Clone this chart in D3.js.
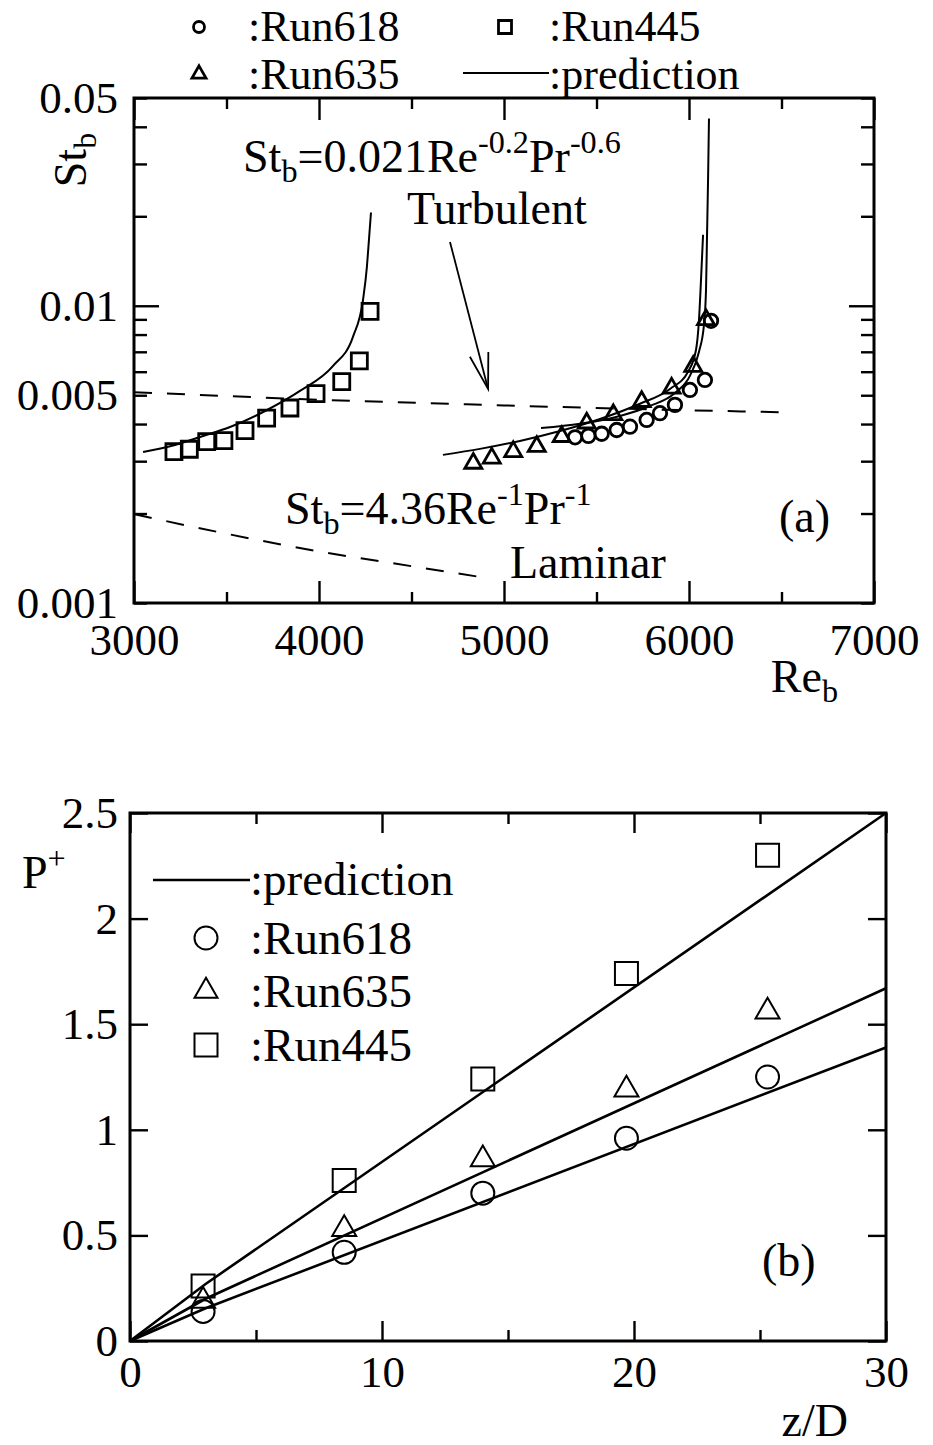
<!DOCTYPE html>
<html>
<head>
<meta charset="utf-8">
<script src="https://cdn.jsdelivr.net/npm/d3@7"></script>
<style>
  body { margin: 0; background: #fff; }
  svg text { font-family: "Liberation Serif", "Times New Roman", serif; fill: #000; }
</style>
</head>
<body>
<svg width="933" height="1445"></svg>
<script>

/* (a) St_b frente a Re_b */

let re445 = [3216, 3299, 3393, 3486, 3600, 3717, 3843, 3984, 4123, 4218, 4276]
let st445 = [0.00323, 0.00329, 0.00349, 0.00352, 0.00380, 0.00419, 0.00453, 0.00506, 0.00556, 0.00653, 0.00957]
let re635 = [4834, 4934, 5050, 5177, 5312, 5447, 5591, 5744, 5906, 6023, 6092]
let st635 = [0.00295, 0.00307, 0.00323, 0.00336, 0.00363, 0.00403, 0.00430, 0.00476, 0.00528, 0.00625, 0.00897]
let re618 = [5384, 5456, 5528, 5609, 5681, 5771, 5843, 5924, 6005, 6086, 6119]
let st618 = [0.00361, 0.00365, 0.00371, 0.00382, 0.00392, 0.00413, 0.00435, 0.00464, 0.00521, 0.00563, 0.00890]

// predicciones
let pred_re445 = [3049, 3222, 3357, 3519, 3719, 3897, 4076, 4184, 4238, 4259, 4270, 4281]
let pred_st445 = [0.00322, 0.00340, 0.00362, 0.00391, 0.00446, 0.00517, 0.00628, 0.00787, 0.01047, 0.01353, 0.01668, 0.0206]
let pred_re635 = [4670, 4870, 5086, 5303, 5519, 5735, 5897, 5995, 6038, 6054, 6065, 6076]
let pred_st635 = [0.00315, 0.00330, 0.00351, 0.00379, 0.00416, 0.00468, 0.00525, 0.00600, 0.00711, 0.00897, 0.01224, 0.01734]
let pred_re618 = [5200, 5411, 5627, 5789, 5924, 6005, 6054, 6081, 6092, 6097, 6103, 6108]
let pred_st618 = [0.00388, 0.00401, 0.00426, 0.00460, 0.00509, 0.00581, 0.00700, 0.00863, 0.01132, 0.01667, 0.02655, 0.04264]

// correlaciones (lineas de trazos)
let turb_re = [3000, 4000, 5000, 6000, 6540]
let turb_st = [0.00512, 0.00483, 0.00462, 0.00445, 0.00438]
let lam_re = [3000, 3500, 4000, 4500, 4920]
let lam_st = [0.00199, 0.00171, 0.00149, 0.00133, 0.00121]

// flecha "Turbulent" [Re, St]
let flecha_desde = [4708, 0.0164]
let flecha_hasta = [4914, 0.00525]

let ticks_re = [3000, 4000, 5000, 6000, 7000]
let ticks_re_menor = [3500, 4500, 5500, 6500]
let ticks_st = [0.001, 0.005, 0.01, 0.05]


/* (b) P+ frente a z/D */

let z_med = [2.9, 8.5, 14.0, 19.7, 25.3]
let p618 = [0.14, 0.42, 0.70, 0.96, 1.25]
let p635 = [0.19, 0.53, 0.86, 1.19, 1.56]
let p445 = [0.26, 0.76, 1.24, 1.74, 2.30]

let z_pred = [0, 3, 30]
let pred_p618 = [0, 0.155, 1.39]
let pred_p635 = [0, 0.20, 1.67]
let pred_p445 = [0, 0.27, 2.50]

let ticks_z = [0, 10, 20, 30]
let ticks_z_menor = [5, 15, 25]
let ticks_p = [0, 0.5, 1, 1.5, 2, 2.5]



let svg = d3.select('svg')

let xa = d3.scaleLinear().domain([3000, 7000]).range([134, 874])
let ya = d3.scaleLog().domain([0.001, 0.05]).range([603, 98])
let xb = d3.scaleLinear().domain([0, 30]).range([130, 886])
let yb = d3.scaleLinear().domain([0, 2.5]).range([1341, 813])


let simbolo = (tipo, lado) => {
  let area = tipo == 'circulo' ? Math.PI * lado * lado / 4
    : tipo == 'cuadrado' ? lado * lado
    : lado * lado * Math.sqrt(3) / 4
  let t = {circulo: d3.symbolCircle, cuadrado: d3.symbolSquare, triangulo: d3.symbolTriangle}[tipo]
  return d3.symbol(t, area)()
}

let marcas = (g, xs, ys, tipo, lado, sw) => {
  g.append('g').selectAll('path')
    .data(d3.zip(xs, ys)).enter()
    .append('path')
      .attr('d', simbolo(tipo, lado))
      .attr('transform', d => `translate(${d[0]}, ${d[1]})`)
      .attr('fill', 'none')
      .attr('stroke', '#000')
      .attr('stroke-width', sw)
}

let eje = (g, gen, escala, pos, vals, largo, fmt = () => '', pad = 0, fs = 45) => {
  let a = g.append('g')
    .attr('transform', pos)
    .call(gen(escala).tickValues(vals).tickSize(-largo).tickPadding(pad).tickFormat(fmt))
  a.select('.domain').remove()
  a.attr('font-family', null).attr('font-size', null)
  a.selectAll('line').attr('stroke', '#000').attr('stroke-width', 2.4)
  a.selectAll('text').attr('font-size', fs)
  return a
}

// texto con sub/superindices: partes = [[texto, 'sub'|'sup'|undefined], ...]
let rico = (g, x, y, partes, fs, ancla = 'start', tr = null) => {
  let t = g.append('text')
    .attr('x', x).attr('y', y)
    .attr('font-size', fs)
    .attr('text-anchor', ancla)
  if (tr) t.attr('transform', tr)
  let prev = 0
  partes.forEach(p => {
    let d = p[1] == 'sup' ? -0.42 * fs : p[1] == 'sub' ? 0.22 * fs : 0
    let s = t.append('tspan').text(p[0]).attr('dy', d - prev)
    if (p[1]) s.attr('font-size', fs * 0.7)
    prev = d
  })
  return t
}

let linea = (xs, ys, sx, sy, curva = d3.curveLinear) =>
  d3.line().x(d => sx(d[0])).y(d => sy(d[1])).curve(curva)(d3.zip(xs, ys))



/* Panel (a) */

let ga = svg.append('g').attr('class', 'panel_a')

ga.append('rect')
  .attr('x', 134).attr('y', 98)
  .attr('width', 740).attr('height', 505)
  .attr('fill', 'none').attr('stroke', '#000').attr('stroke-width', 3)

let todos_st = ya.ticks()
eje(ga, d3.axisBottom, xa, 'translate(0,603)', ticks_re, 22, d3.format('d'), 20)
eje(ga, d3.axisBottom, xa, 'translate(0,603)', ticks_re_menor, 11)
eje(ga, d3.axisTop, xa, 'translate(0,98)', ticks_re, 22)
eje(ga, d3.axisTop, xa, 'translate(0,98)', ticks_re_menor, 11)
eje(ga, d3.axisLeft, ya, 'translate(134,0)', todos_st.filter(v => Math.abs(v - 0.01) > 1e-9), 13)
eje(ga, d3.axisLeft, ya, 'translate(134,0)', [0.01], 25)
eje(ga, d3.axisLeft, ya, 'translate(134,0)', ticks_st, 0, d3.format(''), 16)
eje(ga, d3.axisRight, ya, 'translate(874,0)', todos_st.filter(v => Math.abs(v - 0.01) > 1e-9), 13)
eje(ga, d3.axisRight, ya, 'translate(874,0)', [0.01], 25)

// correlaciones
ga.append('path').attr('d', linea(turb_re, turb_st, xa, ya, d3.curveMonotoneX))
  .attr('fill', 'none').attr('stroke', '#000').attr('stroke-width', 2).attr('stroke-dasharray', '18,15')
ga.append('path').attr('d', linea(lam_re, lam_st, xa, ya, d3.curveMonotoneX))
  .attr('fill', 'none').attr('stroke', '#000').attr('stroke-width', 2).attr('stroke-dasharray', '18,15')

// predicciones
;[[pred_re445, pred_st445], [pred_re635, pred_st635], [pred_re618, pred_st618]].forEach(p => {
  ga.append('path').attr('d', linea(p[0], p[1], xa, ya, d3.curveMonotoneX))
    .attr('fill', 'none').attr('stroke', '#000').attr('stroke-width', 2)
})

marcas(ga, re445.map(xa), st445.map(ya), 'cuadrado', 16, 2.8)
marcas(ga, re618.map(xa), st618.map(ya), 'circulo', 13.5, 2.8)
marcas(ga, re635.map(xa), st635.map(ya), 'triangulo', 17, 2.8)

// flecha
let fx0 = xa(flecha_desde[0]), fy0 = ya(flecha_desde[1])
let fx1 = xa(flecha_hasta[0]), fy1 = ya(flecha_hasta[1])
let ang = Math.atan2(fy0 - fy1, fx0 - fx1)
let ala = a => [fx1 + 37 * Math.cos(ang + a), fy1 + 37 * Math.sin(ang + a)]
ga.append('line').attr('x1', fx0).attr('y1', fy0).attr('x2', fx1).attr('y2', fy1)
  .attr('stroke', '#000').attr('stroke-width', 1.8)
ga.append('path').attr('d', d3.line()([ala(0.26), [fx1, fy1], ala(-0.26)]))
  .attr('fill', 'none').attr('stroke', '#000').attr('stroke-width', 1.8)

// textos
rico(ga, 243, 172, [['St'], ['b', 'sub'], ['=0.021Re'], ['-0.2', 'sup'], ['Pr'], ['-0.6', 'sup']], 46)
ga.append('text').attr('x', 407).attr('y', 224).attr('font-size', 46).text('Turbulent')
rico(ga, 285, 524, [['St'], ['b', 'sub'], ['=4.36Re'], ['-1', 'sup'], ['Pr'], ['-1', 'sup']], 46)
ga.append('text').attr('x', 510).attr('y', 578).attr('font-size', 46).text('Laminar')
ga.append('text').attr('x', 779).attr('y', 532).attr('font-size', 46).text('(a)')
rico(ga, 0, 0, [['St'], ['b', 'sub']], 46, 'middle', 'translate(86,160) rotate(-90)')
rico(ga, 838, 692, [['Re'], ['b', 'sub']], 46, 'end')

// leyenda superior
let gl = svg.append('g').attr('class', 'leyenda')
gl.append('path').attr('d', simbolo('circulo', 11)).attr('transform', 'translate(199,27)')
  .attr('fill', 'none').attr('stroke', '#000').attr('stroke-width', 2.8)
gl.append('path').attr('d', simbolo('cuadrado', 13)).attr('transform', 'translate(505,27)')
  .attr('fill', 'none').attr('stroke', '#000').attr('stroke-width', 2.8)
gl.append('path').attr('d', simbolo('triangulo', 14)).attr('transform', 'translate(199,74)')
  .attr('fill', 'none').attr('stroke', '#000').attr('stroke-width', 2.8)
gl.append('line').attr('x1', 463).attr('x2', 549).attr('y1', 73).attr('y2', 73)
  .attr('stroke', '#000').attr('stroke-width', 2)
gl.append('text').attr('x', 248).attr('y', 41).attr('font-size', 44).text(':Run618')
gl.append('text').attr('x', 549).attr('y', 41).attr('font-size', 44).text(':Run445')
gl.append('text').attr('x', 248).attr('y', 89).attr('font-size', 44).text(':Run635')
gl.append('text').attr('x', 549).attr('y', 89).attr('font-size', 44).text(':prediction')



/* Panel (b) */

let gb = svg.append('g').attr('class', 'panel_b')

gb.append('rect')
  .attr('x', 130).attr('y', 813)
  .attr('width', 756).attr('height', 528)
  .attr('fill', 'none').attr('stroke', '#000').attr('stroke-width', 3)

eje(gb, d3.axisBottom, xb, 'translate(0,1341)', ticks_z, 20, d3.format('d'), 14)
eje(gb, d3.axisBottom, xb, 'translate(0,1341)', ticks_z_menor, 11)
eje(gb, d3.axisTop, xb, 'translate(0,813)', ticks_z, 20)
eje(gb, d3.axisTop, xb, 'translate(0,813)', ticks_z_menor, 11)
eje(gb, d3.axisLeft, yb, 'translate(130,0)', ticks_p, 18, d3.format(''), 12)
eje(gb, d3.axisRight, yb, 'translate(886,0)', ticks_p, 18)

;[pred_p445, pred_p635, pred_p618].forEach(p => {
  gb.append('path').attr('d', linea(z_pred, p, xb, yb))
    .attr('fill', 'none').attr('stroke', '#000').attr('stroke-width', 2.6)
})

marcas(gb, z_med.map(xb), p618.map(yb), 'circulo', 23, 2)
marcas(gb, z_med.map(xb), p635.map(yb), 'triangulo', 24, 2)
marcas(gb, z_med.map(xb), p445.map(yb), 'cuadrado', 23, 2)

// leyenda (b)
gb.append('line').attr('x1', 153).attr('x2', 250).attr('y1', 880).attr('y2', 880)
  .attr('stroke', '#000').attr('stroke-width', 2.6)
gb.append('text').attr('x', 250).attr('y', 895).attr('font-size', 47).text(':prediction')
;[['circulo', ':Run618', 938], ['triangulo', ':Run635', 991], ['cuadrado', ':Run445', 1045]].forEach(l => {
  gb.append('path').attr('d', simbolo(l[0], 23)).attr('transform', `translate(206,${l[2]})`)
    .attr('fill', 'none').attr('stroke', '#000').attr('stroke-width', 2)
  gb.append('text').attr('x', 250).attr('y', l[2] + 16).attr('font-size', 47).text(l[1])
})

rico(gb, 22, 888, [['P'], ['+', 'sup']], 46)
gb.append('text').attr('x', 848).attr('y', 1436).attr('font-size', 46).attr('text-anchor', 'end').text('z/D')
gb.append('text').attr('x', 762).attr('y', 1276).attr('font-size', 46).text('(b)')

</script>
</body>
</html>
